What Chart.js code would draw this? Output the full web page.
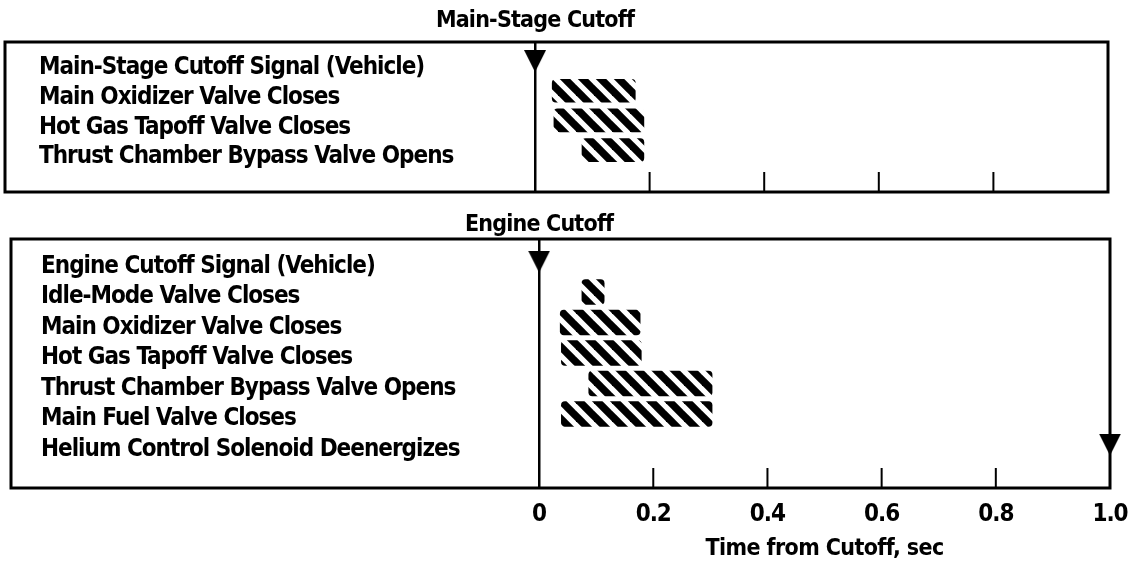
<!DOCTYPE html>
<html>
<head>
<meta charset="utf-8">
<script src="https://cdn.jsdelivr.net/npm/chart.js@4.4.1/dist/chart.umd.min.js"></script>
<style>
  html, body { margin: 0; padding: 0; background: #fff; }
  #wrap { position: relative; width: 1134px; height: 565px; }
  #mainstage { position: absolute; left: 0; top: 0; }
  #engine { position: absolute; left: 0; top: 200px; }
</style>
</head>
<body>
<div id="wrap">
  <canvas id="mainstage" width="1134" height="200"></canvas>
  <canvas id="engine" width="1134" height="365"></canvas>
</div>
<script>
// main-stage cutoff sequence (seconds from cutoff)
const msEvents = [
  'Main-Stage Cutoff Signal (Vehicle)',
  'Main Oxidizer Valve Closes',
  'Hot Gas Tapoff Valve Closes',
  'Thrust Chamber Bypass Valve Opens'
];
const msStart = [null, 0.03, 0.033, 0.082];
const msEnd = [null, 0.175, 0.19, 0.19];
const msSignal = [0, null, null, null];

// engine cutoff sequence
const ecEvents = [
  'Engine Cutoff Signal (Vehicle)',
  'Idle-Mode Valve Closes',
  'Main Oxidizer Valve Closes',
  'Hot Gas Tapoff Valve Closes',
  'Thrust Chamber Bypass Valve Opens',
  'Main Fuel Valve Closes',
  'Helium Control Solenoid Deenergizes'
];
const ecStart = [null, 0.075, 0.037, 0.039, 0.087, 0.039, null];
const ecEnd = [null, 0.114, 0.177, 0.179, 0.303, 0.303, null];
const ecSignal = [0, null, null, null, null, null, 1.0];

const timeTicks = [0, 0.2, 0.4, 0.6, 0.8, 1.0];
const timeLabels = ['0', '0.2', '0.4', '0.6', '0.8', '1.0'];

const FONT = "'DejaVu Sans Condensed', 'DejaVu Sans', sans-serif";
Chart.defaults.font.family = FONT;
Chart.defaults.font.weight = 'bold';
Chart.defaults.font.size = 24;
Chart.defaults.color = '#000';
Chart.defaults.animation = false;

function hatch() {
  const p = 18;
  const c = document.createElement('canvas');
  c.width = p; c.height = p;
  const g = c.getContext('2d');
  g.strokeStyle = '#000';
  g.lineWidth = 7.5;
  for (const a of [-p, 0, p]) {
    g.beginPath();
    g.moveTo(a - p, -p);
    g.lineTo(a + 2 * p, 2 * p);
    g.stroke();
  }
  return g.createPattern(c, 'repeat');
}

function arrowHead() {
  const c = document.createElement('canvas');
  c.width = 22; c.height = 22;
  const g = c.getContext('2d');
  g.fillStyle = '#000';
  g.beginPath();
  g.moveTo(0, 0); g.lineTo(22, 0); g.lineTo(11, 22);
  g.closePath();
  g.fill();
  return c;
}

// box, short inner ticks and the headings
const frame = {
  id: 'frame',
  beforeDraw(chart) {
    chart.ctx.letterSpacing = '-1px';
  },
  afterDraw(chart, args, opts) {
    const {ctx, chartArea: a, scales: {x}} = chart;
    ctx.save();
    ctx.strokeStyle = '#000';
    ctx.lineWidth = 3;
    ctx.strokeRect(a.left, a.top, a.right - a.left, a.bottom - a.top);
    ctx.lineWidth = 2;
    timeTicks.forEach(v => {
      if (v > 0 && v < 1) {
        const px = x.getPixelForValue(v);
        ctx.beginPath();
        ctx.moveTo(px, a.bottom);
        ctx.lineTo(px, a.bottom - 20);
        ctx.stroke();
      }
    });
    ctx.fillStyle = '#000';
    ctx.font = 'bold 23px ' + FONT;
    ctx.textAlign = 'center';
    ctx.textBaseline = 'middle';
    ctx.letterSpacing = '-0.8px';
    ctx.fillText(opts.heading, x.getPixelForValue(0), opts.headingY);
    if (opts.axisTitle) {
      const mid = (x.getPixelForValue(0) + x.getPixelForValue(1)) / 2;
      ctx.letterSpacing = '-0.6px';
      ctx.fillText(opts.axisTitle, mid, opts.axisTitleY);
    }
    ctx.restore();
  }
};

function noPad(ax) {
  ax.paddingTop = 0; ax.paddingBottom = 0;
  ax.paddingLeft = 0; ax.paddingRight = 0;
}

function makeChart(id, events, starts, ends, signals, o) {
  const bars = [];
  starts.forEach((s, i) => { if (s !== null) bars.push({ y: i, x: [s, ends[i]] }); });
  const marks = [];
  signals.forEach((v, i) => { if (v !== null) marks.push({ x: v, y: i }); });

  return new Chart(document.getElementById(id), {
    type: 'bar',
    data: {
      datasets: [
        { type: 'scatter', data: marks, pointStyle: arrowHead(), pointRadius: 11, borderWidth: 0,
          clip: false, order: 0 },
        { data: bars, backgroundColor: hatch(), borderWidth: 0, borderRadius: 4, borderSkipped: false,
          barThickness: o.barThickness, order: 1 }
      ]
    },
    options: {
      responsive: false,
      indexAxis: 'y',
      layout: { padding: o.padding, autoPadding: false },
      plugins: {
        legend: { display: false },
        tooltip: { enabled: false },
        frame: { heading: o.heading, headingY: o.headingY, axisTitle: o.axisTitle, axisTitleY: o.axisTitleY }
      },
      scales: {
        x: {
          type: 'linear', min: o.xMin, max: 1.0, offset: false,
          afterBuildTicks: ax => { ax.ticks = timeTicks.map(v => ({ value: v })); },
          afterFit: ax => { ax.height = o.xHeight; noPad(ax); },
          ticks: { display: o.showTicks, padding: 12, maxRotation: 0, autoSkip: false,
                   callback: (v, i) => timeLabels[i] },
          grid: { drawTicks: false, lineWidth: 2.5,
                  color: c => (c.tick && c.tick.value === 0) ? '#000' : 'rgba(0,0,0,0)' },
          border: { display: false }
        },
        y: {
          type: 'linear', reverse: true, min: o.yMin, max: o.yMax, offset: false,
          afterBuildTicks: ax => { ax.ticks = events.map((e, i) => ({ value: i })); },
          afterFit: ax => { ax.width = 0; noPad(ax); },
          ticks: { mirror: true, padding: o.labelPad, labelOffset: o.labelShift, autoSkip: false,
                   callback: (v, i) => events[i] },
          grid: { display: false, drawTicks: false },
          border: { display: false }
        }
      }
    },
    plugins: [frame]
  });
}

makeChart('mainstage', msEvents, msStart, msEnd, msSignal, {
  padding: { left: 5, right: 26, top: 42, bottom: 8 },
  xMin: -0.925, yMin: -0.64, yMax: 4.41, xHeight: 0, showTicks: false,
  barThickness: 23, labelPad: 34, labelShift: 7,
  heading: 'Main-Stage Cutoff', headingY: 21
});

makeChart('engine', ecEvents, ecStart, ecEnd, ecSignal, {
  padding: { left: 11, right: 24, top: 39, bottom: 0 },
  xMin: -0.925, yMin: -0.738, yMax: 7.426, xHeight: 77, showTicks: true,
  barThickness: 25, labelPad: 30, labelShift: 5,
  heading: 'Engine Cutoff', headingY: 25,
  axisTitle: 'Time from Cutoff, sec', axisTitleY: 349
});
</script>
</body>
</html>
